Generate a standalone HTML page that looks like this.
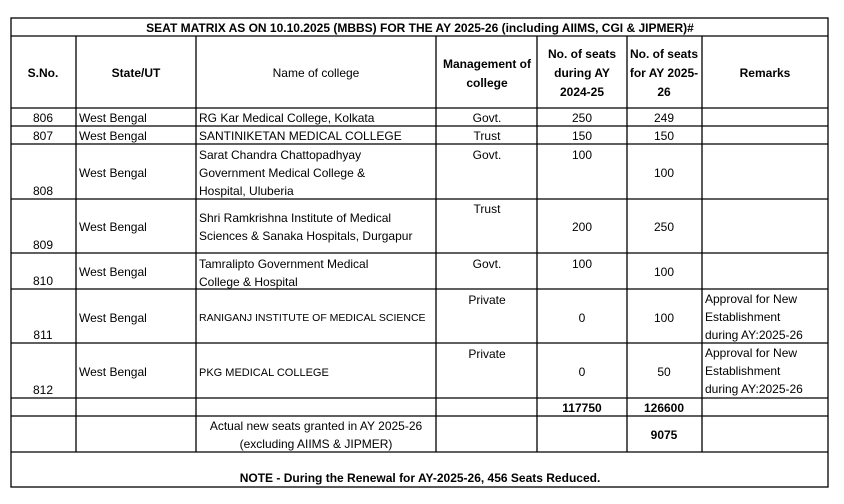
<!DOCTYPE html>
<html><head><meta charset="utf-8"><style>
html,body{margin:0;padding:0;background:#fff;}
svg{display:block;font-family:"Liberation Sans",sans-serif;font-size:12px;fill:#000;}
.b{font-weight:bold;}
.c{text-anchor:middle;}
</style></head><body>
<svg width="844" height="504">
<g stroke="#000" stroke-width="1.3">
<rect x="11" y="18" width="817" height="469" fill="none"/>
<line x1="11" y1="36" x2="828" y2="36"/>
<line x1="11" y1="108" x2="828" y2="108"/>
<line x1="11" y1="126" x2="828" y2="126"/>
<line x1="11" y1="144" x2="828" y2="144"/>
<line x1="11" y1="199" x2="828" y2="199"/>
<line x1="11" y1="253" x2="828" y2="253"/>
<line x1="11" y1="289" x2="828" y2="289"/>
<line x1="11" y1="343" x2="828" y2="343"/>
<line x1="11" y1="398" x2="828" y2="398"/>
<line x1="11" y1="416" x2="828" y2="416"/>
<line x1="11" y1="452" x2="828" y2="452"/>
<line x1="76" y1="36" x2="76" y2="452"/>
<line x1="196" y1="36" x2="196" y2="452"/>
<line x1="436" y1="36" x2="436" y2="452"/>
<line x1="537" y1="36" x2="537" y2="452"/>
<line x1="627" y1="36" x2="627" y2="452"/>
<line x1="702" y1="36" x2="702" y2="452"/>
</g>
<text class="b c" x="420" y="32">SEAT MATRIX AS ON 10.10.2025 (MBBS) FOR THE AY 2025-26 (including AIIMS, CGI &amp; JIPMER)#</text>
<g>
<text class="b c" x="43" y="77">S.No.</text>
<text class="b c" x="136" y="77">State/UT</text>
<text class="c" x="316" y="77">Name of college</text>
<text class="b c" x="487" y="68">Management of</text>
<text class="b c" x="487" y="87">college</text>
<text class="b c" x="582" y="58">No. of seats</text>
<text class="b c" x="582" y="77">during AY</text>
<text class="b c" x="582" y="96">2024-25</text>
<text class="b c" x="664" y="58">No. of seats</text>
<text class="b c" x="664" y="77">for AY 2025-</text>
<text class="b c" x="664" y="96">26</text>
<text class="b c" x="765" y="77">Remarks</text>
</g>
<g>
<text class="c" x="43" y="122">806</text><text x="79" y="122">West Bengal</text>
<text x="199" y="122">RG Kar Medical College, Kolkata</text>
<text class="c" x="487" y="122">Govt.</text><text class="c" x="582" y="122">250</text><text class="c" x="664" y="122">249</text>
</g>
<g>
<text class="c" x="43" y="140">807</text><text x="79" y="140">West Bengal</text>
<text x="199" y="140">SANTINIKETAN MEDICAL COLLEGE</text>
<text class="c" x="487" y="140">Trust</text><text class="c" x="582" y="140">150</text><text class="c" x="664" y="140">150</text>
</g>
<g>
<text class="c" x="43" y="195">808</text><text x="79" y="177">West Bengal</text>
<text x="199" y="159">Sarat Chandra Chattopadhyay</text>
<text x="199" y="177">Government Medical College &amp;</text>
<text x="199" y="195">Hospital, Uluberia</text>
<text class="c" x="487" y="159">Govt.</text><text class="c" x="582" y="159">100</text><text class="c" x="664" y="177">100</text>
</g>
<g>
<text class="c" x="43" y="249">809</text><text x="79" y="231">West Bengal</text>
<text x="199" y="222">Shri Ramkrishna Institute of Medical</text>
<text x="199" y="240">Sciences &amp; Sanaka Hospitals, Durgapur</text>
<text class="c" x="487" y="213">Trust</text><text class="c" x="582" y="231">200</text><text class="c" x="664" y="231">250</text>
</g>
<g>
<text class="c" x="43" y="285">810</text><text x="79" y="276">West Bengal</text>
<text x="199" y="268">Tamralipto Government Medical</text>
<text x="199" y="286">College &amp; Hospital</text>
<text class="c" x="487" y="268">Govt.</text><text class="c" x="582" y="268">100</text><text class="c" x="664" y="276">100</text>
</g>
<g>
<text class="c" x="43" y="339">811</text><text x="79" y="322">West Bengal</text>
<text x="199" y="321" font-size="10.5">RANIGANJ INSTITUTE OF MEDICAL SCIENCE</text>
<text class="c" x="487" y="304">Private</text><text class="c" x="582" y="322">0</text><text class="c" x="664" y="322">100</text>
<text x="705" y="303">Approval for New</text><text x="705" y="321">Establishment</text><text x="705" y="339">during AY:2025-26</text>
</g>
<g>
<text class="c" x="43" y="394">812</text><text x="79" y="376">West Bengal</text>
<text x="199" y="376" font-size="11">PKG MEDICAL COLLEGE</text>
<text class="c" x="487" y="358">Private</text><text class="c" x="582" y="376">0</text><text class="c" x="664" y="376">50</text>
<text x="705" y="357">Approval for New</text><text x="705" y="375">Establishment</text><text x="705" y="393">during AY:2025-26</text>
</g>
<g>
<text class="b c" x="582" y="412">117750</text><text class="b c" x="664" y="412">126600</text>
</g>
<g>
<text class="c" x="316" y="430">Actual new seats granted in AY 2025-26</text>
<text class="c" x="316" y="448">(excluding AIIMS &amp; JIPMER)</text>
<text class="b c" x="664" y="439">9075</text>
</g>
<text class="b c" x="420" y="482">NOTE - During the Renewal for AY-2025-26, 456 Seats Reduced.</text>
</svg>
</body></html>
